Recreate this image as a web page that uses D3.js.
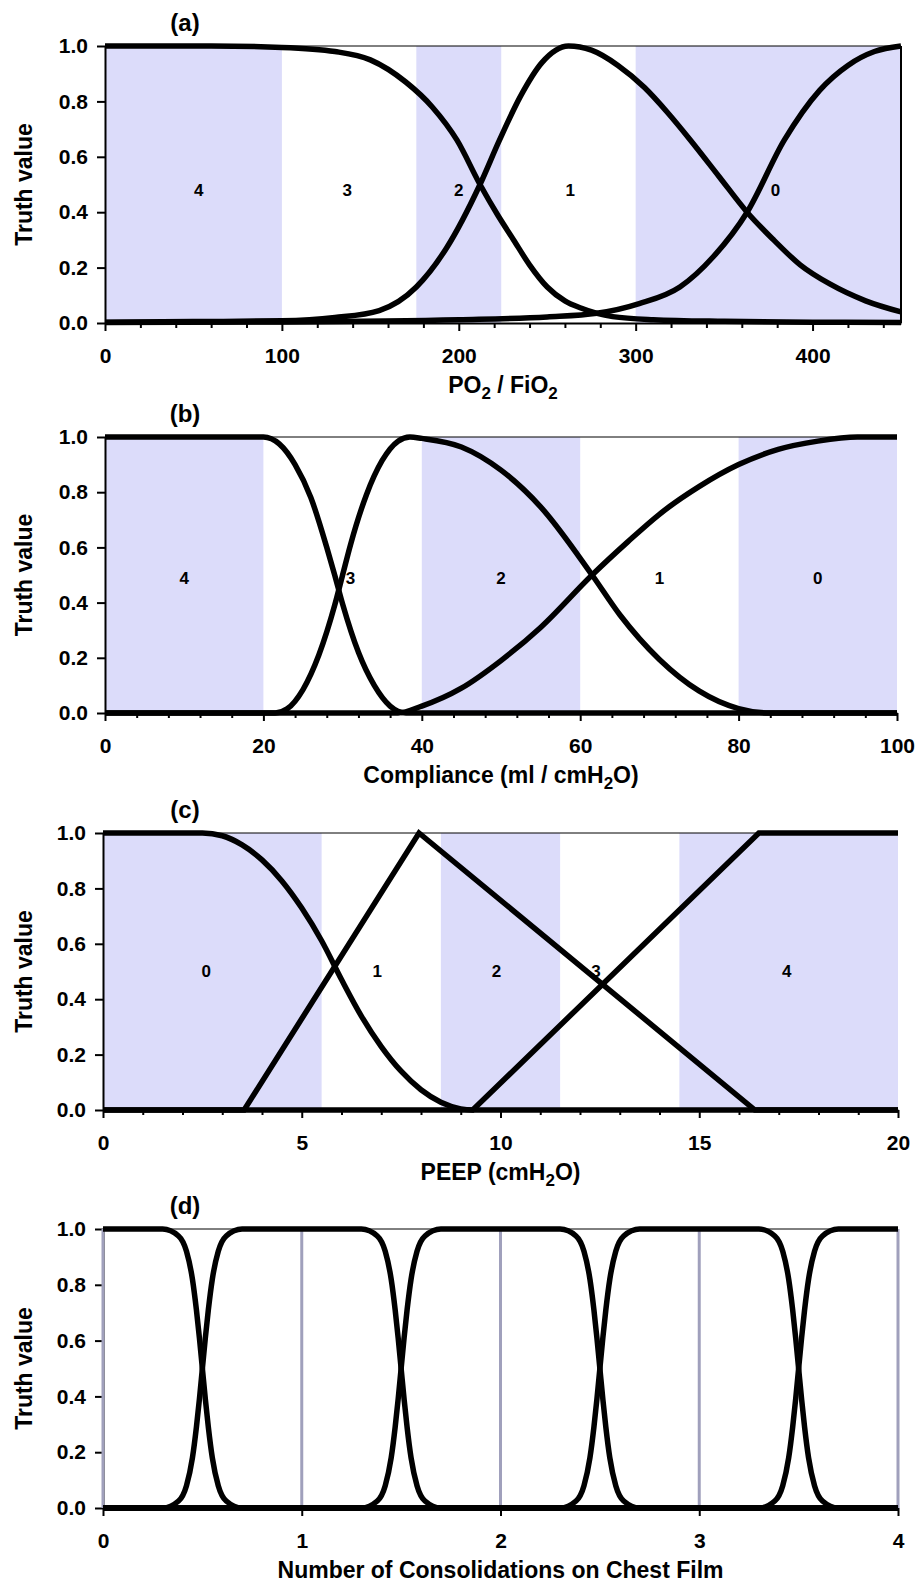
<html>
<head>
  <script src="https://d3js.org/d3.v7.min.js"></script>
  <meta charset="utf-8">
  <title>Truth value curves</title>
<style>
body {
  margin: 0;
  background: #fff;
}
svg {
  background: #fff;
  font-family: "Liberation Sans", Arial, sans-serif;
  font-weight: bold;
}
</style>
</head>
<body>
<script>
var width = 924;
var height = 1583;

var yTicks = [0, 0.2, 0.4, 0.6, 0.8, 1.0];

// (a) PO2 / FiO2
var aTicks = [0, 100, 200, 300, 400];
var aBands = [[0, 100], [176, 224], [300, 450]];
var aNames = ['4', '3', '2', '1', '0'];
var aNamePos = [53, 137, 200, 263, 379];
var aLow = [[0,1],[60,1],[100,0.995],[130,0.98],[150,0.95],[170,0.87],[185,0.78],[199,0.66],[212,0.5],[222,0.39],[231,0.3],[240,0.21],[250,0.13],[260,0.08],[269,0.054],[287,0.023],[310,0.012],[350,0.006],[400,0.003],[450,0.002]];
var aMid = [[0,0.003],[50,0.005],[100,0.008],[130,0.02],[155,0.045],[176,0.13],[193,0.27],[212,0.5],[223,0.66],[235,0.82],[247,0.94],[262,1],[275,0.985],[290,0.93],[305,0.85],[318,0.76],[331,0.66],[347,0.53],[363,0.4],[378,0.3],[393,0.21],[410,0.14],[430,0.08],[450,0.04]];
var aHigh = [[0,0.002],[100,0.004],[200,0.012],[250,0.022],[278,0.035],[302,0.07],[325,0.13],[344,0.24],[363,0.4],[384,0.66],[404,0.84],[420,0.93],[435,0.98],[450,1]];

// (b) Compliance
var bTicks = [0, 20, 40, 60, 80, 100];
var bBands = [[0, 20], [40, 60], [80, 100]];
var bNames = ['4', '3', '2', '1', '0'];
var bNamePos = [10, 31, 50, 70, 90];
var bLow = [[0,1],[20,1],[22,0.975],[24,0.9],[26,0.78],[28,0.6],[29,0.5],[30,0.395],[32,0.22],[34,0.1],[36,0.025],[38,0],[100,0]];
var bMid = [[0,0],[21.5,0],[23,0.015],[25,0.085],[27,0.21],[29,0.39],[30,0.5],[31,0.61],[33,0.79],[35,0.915],[37,0.985],[38.5,1],[40,0.995],[45,0.964],[50,0.88],[55,0.747],[61.5,0.5],[65,0.356],[70,0.194],[75,0.08],[80,0.016],[84,0],[100,0]];
var bHigh = [[0,0],[37,0],[40,0.025],[45,0.09],[50,0.19],[55,0.31],[61.5,0.5],[66,0.62],[70,0.72],[75,0.82],[80,0.9],[85,0.955],[90,0.985],[95,1],[100,1]];

// (c) PEEP
var cTicks = [0, 5, 10, 15, 20];
var cBands = [[0, 5.5], [8.5, 11.5], [14.5, 20]];
var cNames = ['0', '1', '2', '3', '4'];
var cNamePos = [2.6, 6.9, 9.9, 12.4, 17.2];
var cLow = [[0,1],[2.5,1],[3,0.99],[3.5,0.957],[4,0.903],[4.5,0.827],[5,0.729],[5.5,0.611],[6,0.471],[6.5,0.339],[7,0.229],[7.5,0.14],[8,0.073],[8.5,0.028],[9,0.004],[9.3,0],[20,0]];
var cMid = [[0,0],[3.55,0],[7.95,1],[16.4,0],[20,0]];
var cHigh = [[0,0],[9.3,0],[16.5,1],[20,1]];

// (d) consolidations
var dTicks = [0, 1, 2, 3, 4];
var dSet0 = [[0,1],[0.3,1],[0.38,0.975],[0.42,0.92],[0.45,0.82],[0.47,0.71],[0.485,0.61],[0.5,0.5],[0.515,0.39],[0.53,0.29],[0.55,0.18],[0.58,0.08],[0.62,0.025],[0.7,0],[4,0]];
var dSet1 = [[0,0],[0.3,0],[0.38,0.025],[0.42,0.08],[0.45,0.18],[0.47,0.29],[0.485,0.39],[0.5,0.5],[0.515,0.61],[0.53,0.71],[0.55,0.82],[0.58,0.92],[0.62,0.975],[0.7,1],
  [1.3,1],[1.38,0.975],[1.42,0.92],[1.45,0.82],[1.47,0.71],[1.485,0.61],[1.5,0.5],[1.515,0.39],[1.53,0.29],[1.55,0.18],[1.58,0.08],[1.62,0.025],[1.7,0],[4,0]];
var dSet2 = [[0,0],[1.3,0],[1.38,0.025],[1.42,0.08],[1.45,0.18],[1.47,0.29],[1.485,0.39],[1.5,0.5],[1.515,0.61],[1.53,0.71],[1.55,0.82],[1.58,0.92],[1.62,0.975],[1.7,1],
  [2.3,1],[2.38,0.975],[2.42,0.92],[2.45,0.82],[2.47,0.71],[2.485,0.61],[2.5,0.5],[2.515,0.39],[2.53,0.29],[2.55,0.18],[2.58,0.08],[2.62,0.025],[2.7,0],[4,0]];
var dSet3 = [[0,0],[2.3,0],[2.38,0.025],[2.42,0.08],[2.45,0.18],[2.47,0.29],[2.485,0.39],[2.5,0.5],[2.515,0.61],[2.53,0.71],[2.55,0.82],[2.58,0.92],[2.62,0.975],[2.7,1],
  [3.3,1],[3.38,0.975],[3.42,0.92],[3.45,0.82],[3.47,0.71],[3.485,0.61],[3.5,0.5],[3.515,0.39],[3.53,0.29],[3.55,0.18],[3.58,0.08],[3.62,0.025],[3.7,0],[4,0]];
var dSet4 = [[0,0],[3.3,0],[3.38,0.025],[3.42,0.08],[3.45,0.18],[3.47,0.29],[3.485,0.39],[3.5,0.5],[3.515,0.61],[3.53,0.71],[3.55,0.82],[3.58,0.92],[3.62,0.975],[3.7,1],[4,1]];

var svg = d3.select('body').append('svg')
  .attr('width', width)
  .attr('height', height);

var shade = '#dcdcfa';

function drawPanel(p) {
  var x = d3.scaleLinear().domain(p.domain).range([p.left, p.right]);
  var y = d3.scaleLinear().domain([0, 1]).range([p.bottom, p.top]);
  var g = svg.append('g');

  g.selectAll('rect.band')
    .data(p.bands)
    .enter().append('rect')
    .attr('class', 'band')
    .attr('x', function (d) { return x(d[0]); })
    .attr('width', function (d) { return x(d[1]) - x(d[0]); })
    .attr('y', y(1))
    .attr('height', y(0) - y(1))
    .attr('fill', shade);

  // minor ticks first, then main axis
  if (p.minorStep) {
    var minor = d3.range(p.domain[0], p.domain[1], p.minorStep)
      .filter(function (v) { return p.ticks.indexOf(v) < 0; });
    var mg = g.append('g')
      .attr('transform', 'translate(0,' + p.bottom + ')')
      .call(d3.axisBottom(x).tickValues(minor).tickSize(5).tickFormat('').tickSizeOuter(0));
    mg.select('.domain').remove();
    mg.selectAll('line').attr('stroke-width', 2);
  }

  var xg = g.append('g')
    .attr('transform', 'translate(0,' + p.bottom + ')')
    .call(d3.axisBottom(x).tickValues(p.ticks).tickFormat(d3.format('d'))
      .tickSize(8).tickPadding(17).tickSizeOuter(0));
  var yg = g.append('g')
    .attr('transform', 'translate(' + p.left + ',0)')
    .call(d3.axisLeft(y).tickValues(yTicks).tickFormat(d3.format('.1f')).tickSize(8).tickPadding(9).tickSizeOuter(0));

  [xg, yg].forEach(function (a) {
    a.selectAll('path, line').attr('stroke-width', 2).attr('stroke', '#000');
    a.selectAll('text')
      .attr('font-size', 21)
      .attr('font-family', '"Liberation Sans", Arial, sans-serif')
      .attr('font-weight', 'bold')
      .attr('fill', '#000');
  });

  if (p.grid) {
    g.selectAll('line.grid')
      .data(p.grid)
      .enter().append('line')
      .attr('x1', function (d) { return x(d); })
      .attr('x2', function (d) { return x(d); })
      .attr('y1', y(0))
      .attr('y2', y(1))
      .attr('stroke', '#a0a0bc')
      .attr('stroke-width', 3);
  }

  // thin frame on top (and right for panel a)
  g.append('line')
    .attr('x1', x(p.domain[0])).attr('x2', x(p.domain[1]))
    .attr('y1', y(1)).attr('y2', y(1))
    .attr('stroke', '#000').attr('stroke-width', 1);
  if (p.rightEdge) {
    g.append('line')
      .attr('x1', x(p.domain[1])).attr('x2', x(p.domain[1]))
      .attr('y1', y(1)).attr('y2', y(0))
      .attr('stroke', '#000').attr('stroke-width', 2);
  }

  p.curves.forEach(function (c, i) {
    var line = d3.line()
      .x(function (d) { return x(d[0]); })
      .y(function (d) { return y(d[1]); })
      .curve(p.linear && p.linear[i] ? d3.curveLinear : d3.curveMonotoneX);
    g.append('path')
      .datum(c)
      .attr('d', line)
      .attr('fill', 'none')
      .attr('stroke', '#000')
      .attr('stroke-width', 5.5);
  });

  if (p.names) {
    g.selectAll('text.name')
      .data(p.names)
      .enter().append('text')
      .attr('class', 'name')
      .attr('x', function (d, i) { return x(p.namePos[i]); })
      .attr('y', y(p.nameY))
      .attr('dy', '0.35em')
      .attr('text-anchor', 'middle')
      .attr('font-size', 17)
      .text(function (d) { return d; });
  }

  // panel letter
  g.append('text')
    .attr('x', 185)
    .attr('y', p.top - 15)
    .attr('text-anchor', 'middle')
    .attr('font-size', 24)
    .text(p.letter);

  // y title
  var cy = (p.top + p.bottom) / 2;
  g.append('text')
    .attr('transform', 'translate(32,' + cy + ') rotate(-90)')
    .attr('text-anchor', 'middle')
    .attr('font-size', 23)
    .text('Truth value');

  // x title with subscripts
  var t = g.append('text')
    .attr('x', (p.left + p.right) / 2)
    .attr('y', p.bottom + 70)
    .attr('text-anchor', 'middle')
    .attr('font-size', 23);
  var wasSub = false;
  p.title.forEach(function (s) {
    var sub = s[1] === 1;
    var ts = t.append('tspan').text(s[0]);
    if (sub) ts.attr('font-size', 17).attr('dy', wasSub ? 0 : 6);
    else if (wasSub) ts.attr('dy', -6);
    wasSub = sub;
  });
}

drawPanel({
  letter: '(a)', domain: [0, 450], left: 105, right: 901, top: 46, bottom: 323,
  ticks: aTicks, minorStep: 20, bands: aBands,
  curves: [aLow, aMid, aHigh],
  names: aNames, namePos: aNamePos, nameY: 0.48,
  title: [['PO', 0], ['2', 1], [' / FiO', 0], ['2', 1]],
  rightEdge: true
});

drawPanel({
  letter: '(b)', domain: [0, 100], left: 105, right: 897, top: 437, bottom: 713,
  ticks: bTicks, minorStep: 4, bands: bBands,
  curves: [bLow, bMid, bHigh],
  names: bNames, namePos: bNamePos, nameY: 0.49,
  title: [['Compliance (ml / cmH', 0], ['2', 1], ['O)', 0]]
});

drawPanel({
  letter: '(c)', domain: [0, 20], left: 103, right: 898, top: 833, bottom: 1110,
  ticks: cTicks, minorStep: 1, bands: cBands,
  curves: [cLow, cMid, cHigh], linear: [false, true, true],
  names: cNames, namePos: cNamePos, nameY: 0.5,
  title: [['PEEP (cmH', 0], ['2', 1], ['O)', 0]]
});

drawPanel({
  letter: '(d)', domain: [0, 4], left: 103, right: 898, top: 1229, bottom: 1508,
  ticks: dTicks, bands: [], grid: dTicks,
  curves: [dSet0, dSet1, dSet2, dSet3, dSet4],
  title: [['Number of Consolidations on Chest Film', 0]]
});
</script>
</body>
</html>
